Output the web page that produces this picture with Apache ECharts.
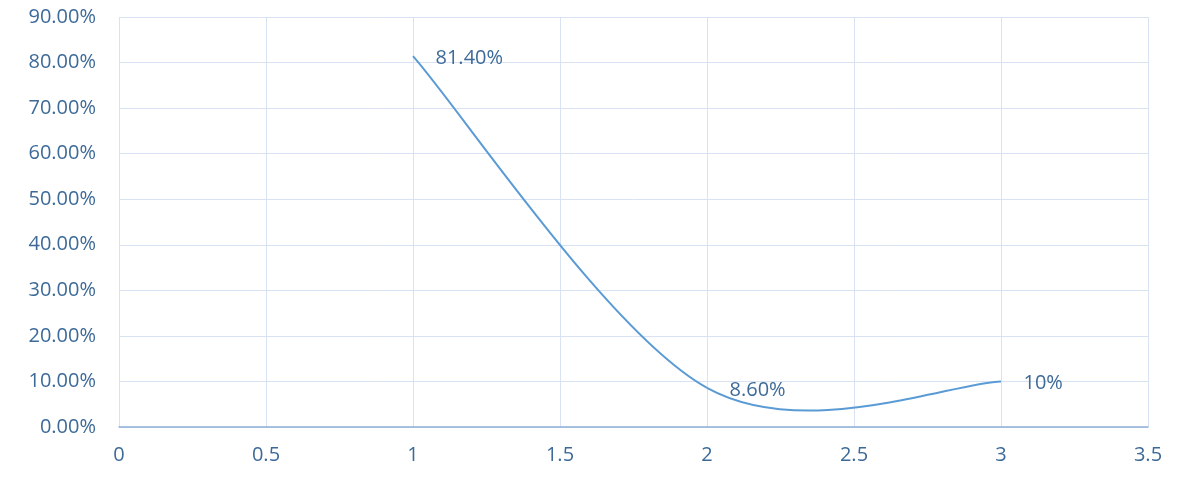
<!DOCTYPE html>
<html><head><meta charset="utf-8">
<script src="https://cdn.jsdelivr.net/npm/echarts@6/dist/echarts.min.js"></script>
<style>html,body{margin:0;padding:0;background:#fff}#c{width:1188px;height:485px}</style>
</head><body><div id="c"></div>
<script>
const xValues = [1, 2, 3];
const yValues = [81.4, 8.6, 10];
const pointLabels = ['81.40%', '8.60%', '10%'];
const yTicks = [0, 10, 20, 30, 40, 50, 60, 70, 80, 90];
const xTicks = [0, 0.5, 1, 1.5, 2, 2.5, 3, 3.5];

const txt = '#3d6a98';
const font = 'Open Sans';
const chart = echarts.init(document.getElementById('c'));

// Excel-style smoothed segment between point i and i+1 (Catmull-Rom -> Bezier, tension 1/6)
function renderSegment(params, api) {
  const i = params.dataIndex;
  const n = xValues.length;
  if (i >= n - 1) return null;
  const P = k => api.coord([xValues[Math.max(0, Math.min(n - 1, k))], yValues[Math.max(0, Math.min(n - 1, k))]]);
  const p0 = P(i - 1), p1 = P(i), p2 = P(i + 1), p3 = P(i + 2);
  const c1 = [p1[0] + (p2[0] - p0[0]) / 6, p1[1] + (p2[1] - p0[1]) / 6];
  const c2 = [p2[0] - (p3[0] - p1[0]) / 6, p2[1] - (p3[1] - p1[1]) / 6];
  return {
    type: 'bezierCurve',
    shape: {x1: p1[0], y1: p1[1], cpx1: c1[0], cpy1: c1[1], cpx2: c2[0], cpy2: c2[1], x2: p2[0], y2: p2[1]},
    style: {stroke: '#5b9bd5', lineWidth: 2, fill: null}
  };
}

chart.setOption({
  animation: false,
  grid: {left: 119, right: 40, top: 17, bottom: 58},
  xAxis: {
    type: 'value', min: 0, max: 3.5, interval: 0.5,
    axisLine: {show: true, onZero: true, lineStyle: {color: '#8fb0d8', width: 1.5}},
    axisTick: {show: false},
    axisLabel: {color: txt, fontSize: 20, fontFamily: font, margin: 18},
    splitLine: {show: true, lineStyle: {color: '#d9e2f2', width: 1}}
  },
  yAxis: {
    type: 'value', min: 0, max: 90, interval: 10,
    axisLine: {show: false}, axisTick: {show: false},
    axisLabel: {color: txt, fontSize: 20, fontFamily: font, margin: 23,
      formatter: v => v.toFixed(2) + '%'},
    splitLine: {show: true, lineStyle: {color: '#d9e2f2', width: 1}}
  },
  series: [{
    type: 'custom',
    renderItem: renderSegment,
    data: xValues.map((x, i) => [x, yValues[i]]),
    encode: {x: 0, y: 1},
    z: 3
  }, {
    type: 'scatter',
    data: xValues.map((x, i) => [x, yValues[i]]),
    symbolSize: 1,
    itemStyle: {color: 'rgba(0,0,0,0)', opacity: 1},
    label: {show: true, position: 'right', distance: 22, color: txt, opacity: 1, fontSize: 20, fontFamily: font,
      offset: [0, 2], formatter: p => pointLabels[p.dataIndex]},
    emphasis: {disabled: true},
    z: 4
  }]
});
</script></body></html>
